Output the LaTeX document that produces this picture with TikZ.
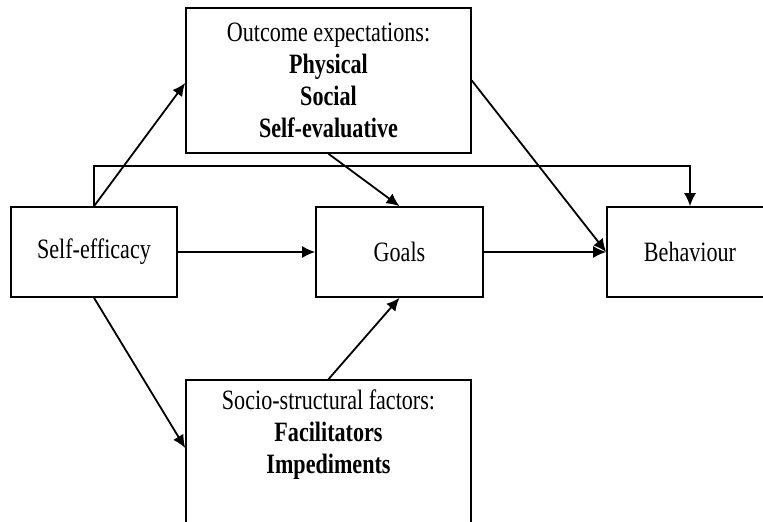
\documentclass[tikz,border=0pt]{standalone}
\usepackage{fontspec}
\setmainfont{Liberation Serif}[FakeStretch=0.79]
\usetikzlibrary{arrows.meta}
\begin{document}
\begin{tikzpicture}[x=1pt,y=-1pt,
  box/.style={draw, line width=1.6pt, rectangle, inner sep=0pt, align=center,
    font=\fontsize{28}{32}\selectfont},
  conn/.style={line width=1.8pt, -{Latex[length=13pt,width=12pt]}}]
\useasboundingbox (0,0) rectangle (763,522);
\clip (0,0) rectangle (763,522);
\node[box, minimum width=166pt, minimum height=90pt] (se) at (94,252) {Self-efficacy};
\node[box, minimum width=167pt, minimum height=90pt] (goals) at (399.5,252) {Goals};
\node[box, minimum width=166pt, minimum height=90pt] (beh) at (690,252) {Behaviour};
\node[box, minimum width=285pt, minimum height=145pt] (oe) at (328.5,80.5)
  {Outcome expectations:\\ \textbf{Physical}\\ \textbf{Social}\\ \textbf{Self-evaluative}};
\node[box, minimum width=285pt, minimum height=155pt] (socio) at (328.5,457.5) {};
\node[align=center, anchor=north, inner sep=0pt, font=\fontsize{28}{32}\selectfont]
  (sociotext) at ([yshift=-10pt]socio.north)
  {Socio-structural factors:\\ \textbf{Facilitators}\\ \textbf{Impediments}};
\coordinate (fbl) at (94,166);
\coordinate (fbr) at (690,166);
\draw[conn] (se.north) -- ([yshift=-2.5pt]oe.west);
\draw[conn] (se.south) -- ([yshift=9.5pt]socio.west);
\draw[conn] (socio.north) -- (goals.south);
\draw[conn] (oe.south) -- (goals.north);
\draw[conn] (oe.east) -- (beh.west);
\draw[conn] (se.east) -- (goals.west);
\draw[conn] (goals.east) -- (beh.west);
\draw[conn] (se.north) -- (fbl) -- (fbr) -- (beh.north);
\end{tikzpicture}
\end{document}
